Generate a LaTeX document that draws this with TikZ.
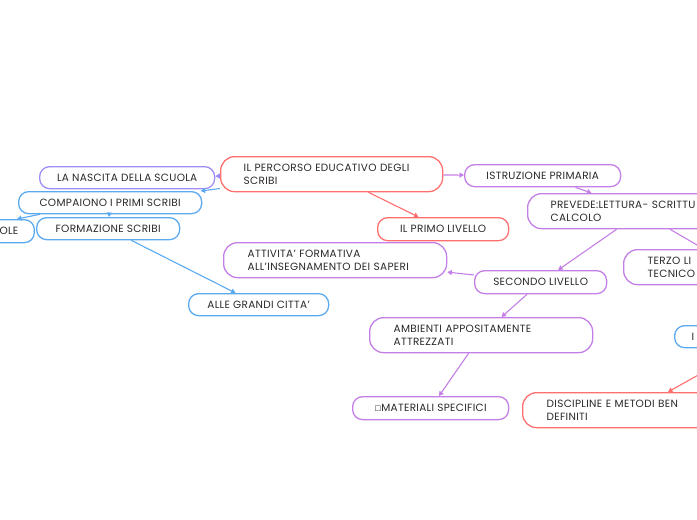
\documentclass[tikz,border=0pt]{standalone}
\usepackage{fontspec}
\setmainfont[LetterSpace=3]{Poppins}
\newfontfamily\symfont{DejaVu Sans}
\usetikzlibrary{arrows.meta,positioning,calc}
\definecolor{coral}{HTML}{FF6F6F}
\definecolor{orchid}{HTML}{C47FE6}
\definecolor{lavender}{HTML}{A08CF5}
\definecolor{sky}{HTML}{5BAAF0}
\definecolor{ink}{HTML}{2A2A2A}

\begin{document}
\begin{tikzpicture}[x=1pt,y=-1pt,
  font=\fontsize{10.5}{12.5}\selectfont, text=ink,
  pill/.style={draw,fill=white,rounded corners=10pt,line width=1.3pt,minimum height=22pt,inner ysep=0pt,inner xsep=0pt,align=center,anchor=north west},
  tall/.style={pill,rounded corners=14pt,minimum height=35pt,align=left},
  link/.style={-{Triangle[length=4.5pt,width=5pt]},line width=1.1pt}]
\useasboundingbox (0,0) rectangle (697,520);
\clip (0,0) rectangle (697,520);
% left branch
\node[tall,draw=coral,text width=176pt,inner xsep=23pt] (root) at (220,156) {IL PERCORSO EDUCATIVO DEGLI\\SCRIBI};
\node[pill,draw=lavender,minimum width=175pt] (nascita) at (39,166) {LA NASCITA DELLA SCUOLA};
\node[pill,draw=sky,minimum width=183pt] (compaiono) at (18,191) {COMPAIONO I PRIMI SCRIBI};
\node[pill,draw=sky,minimum width=143pt] (formazione) at (36,217) {FORMAZIONE SCRIBI};
\node[pill,draw=sky,anchor=north east,minimum height=23pt,align=right,text width=68pt,inner xsep=16pt] (ole) at (35,219) {OLE};
\node[pill,draw=sky,minimum width=140pt] (grandi) at (188,293) {ALLE GRANDI CITTA'};
% right branch
\node[pill,draw=coral,minimum width=131pt,minimum height=23pt] (primo) at (377,217) {IL PRIMO LIVELLO};
\node[pill,draw=orchid,minimum width=156pt] (istruzione) at (464,164) {ISTRUZIONE PRIMARIA};
\node[tall,draw=orchid,text width=184pt,inner xsep=23pt] (prevede) at (527,193) {PREVEDE:LETTURA- SCRITTU\\CALCOLO};
\node[tall,draw=orchid,text width=175pt,inner xsep=24pt] (attivita) at (223,242) {ATTIVITA' FORMATIVA\\ALL'INSEGNAMENTO DEI SAPERI};
\node[pill,draw=orchid,minimum width=132pt,minimum height=23pt] (secondo) at (474,270) {SECONDO LIVELLO};
\node[tall,draw=orchid,text width=92pt,inner xsep=24pt] (terzo) at (623,249) {TERZO LI\\TECNICO};
\node[tall,draw=orchid,text width=175pt,inner xsep=24pt] (ambienti) at (369,317) {AMBIENTI APPOSITAMENTE\\ATTREZZATI};
\node[pill,draw=orchid,minimum width=156pt,minimum height=23pt] (materiali) at (352,396) {{\symfont\fontsize{7.5}{7.5}\selectfont ☐}MATERIALI SPECIFICI};
\node[tall,draw=coral,text width=175pt,inner xsep=24pt] (discipline) at (522,392) {DISCIPLINE E METODI BEN\\DEFINITI};
\node[pill,draw=sky,align=left,text width=66pt,inner xsep=17pt] (inode) at (674,325) {I};
\coordinate (offD) at (748,347);
% connectors
\draw[link,lavender] (root) -- (nascita);
\draw[link,sky] (root) -- (compaiono);
\draw[link,sky] ($(compaiono.south west)+(22,0)$) -- ($(ole.north east)+(-18,0)$);
\draw[link,sky] (compaiono) -- (formazione);
\draw[link,sky] (formazione) -- (grandi);
\draw[link,coral] (root) -- (primo);
\draw[link,orchid] (root) -- (istruzione);
\draw[link,orchid] (istruzione) -- (prevede);
\draw[link,orchid] (prevede) -- (secondo);
\draw[link,orchid] ($(prevede.south west)+(143,0)$) -- ($(terzo.north west)+(81,0)$);
\draw[link,orchid] (secondo) -- (attivita);
\draw[link,orchid] (secondo) -- (ambienti);
\draw[link,orchid] (ambienti) -- (materiali);
\draw[link,coral] (offD) -- ($(discipline.north west)+(146,0)$);
\end{tikzpicture}
\end{document}
